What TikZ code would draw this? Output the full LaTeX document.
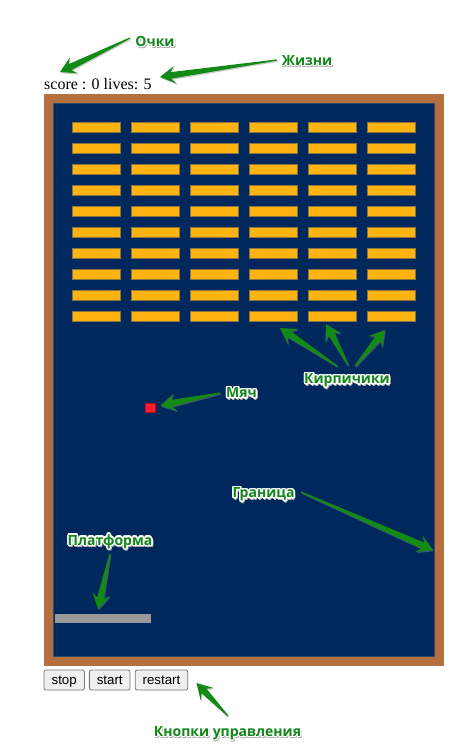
\documentclass[tikz,border=0pt]{standalone}
\usepackage{fontspec}
\setmainfont{Liberation Serif}
\newfontfamily\lblfont{Open Sans}
\newfontfamily\btnfont{Liberation Sans}
\usetikzlibrary{calc}
\definecolor{frame}{HTML}{B5703F}
\definecolor{field}{HTML}{00285C}
\definecolor{brick}{HTML}{FFB311}
\definecolor{brickedge}{HTML}{8A7440}
\definecolor{ballred}{HTML}{FF1A2A}
\definecolor{paddle}{HTML}{999999}
\definecolor{lblgreen}{HTML}{12861A}
\definecolor{arrgreen}{HTML}{138A13}
\definecolor{btnfill}{HTML}{F0F0F0}
\definecolor{btnedge}{HTML}{767676}
\tikzset{
  lbl/.style={font=\lblfont\bfseries\fontsize{14}{16}\selectfont, inner sep=0pt, anchor=base},
  btn/.style={draw=btnedge, fill=btnfill, rounded corners=2pt, line width=0.8pt,
    font=\btnfont\fontsize{13.3}{15}\selectfont, inner sep=0pt, minimum height=20pt,
    text height=10pt, text depth=1pt},
  brickbox/.style={fill=brick, draw=brickedge, line width=0.5pt},
}
\newcommand\glabel[3]{%
  \foreach \a in {0,45,...,315} \node[lbl,text=black!30] at ($(#2)+(\a:1.3)+(0.8,1.2)$) {#3};
  \foreach \a in {0,30,...,330} \node[lbl,text=white] at ($(#2)+(\a:1.5)$) {#3};
  \node[lbl,text=lblgreen] (#1) at (#2) {#3};
}
\newcommand\garrowpath[1]{($(#1t)!0.6pt!90:(#1p)$) -- ($(#1c)!3.3pt!90:(#1p)$) -- ($(#1b)!9pt!90:(#1p)$) -- (#1p) -- ($(#1b)!9pt!-90:(#1p)$) -- ($(#1c)!3.3pt!-90:(#1p)$) -- ($(#1t)!0.6pt!-90:(#1p)$) -- cycle}
\newcommand\garrow[3]{%
  \coordinate (#3t) at (#1);
  \coordinate (#3p) at (#2);
  \coordinate (#3b) at ($(#3p)!15.5pt!(#3t)$);
  \coordinate (#3c) at ($(#3p)!11pt!(#3t)$);
  \fill[black!45,opacity=0.45,transform canvas={shift={(0.8pt,-1.2pt)}}] \garrowpath{#3};
  \fill[arrgreen] \garrowpath{#3};
}
\begin{document}
\begin{tikzpicture}[x=1pt,y=-1pt]
\useasboundingbox[fill=white] (0,0) rectangle (471,745);
% frame and field
\fill[frame] (44,94) rectangle (443.5,665.5);
\filldraw[fill=field, draw=field!60!gray, line width=0.6pt] (53,103) rectangle (434.5,656.5);
% bricks
\foreach \c in {0,...,5} \foreach \r in {0,...,9}
  \draw[brickbox] ({72.5+59*\c},{122+21*\r}) rectangle ++(47.5,10);
% ball and paddle
\filldraw[fill=ballred, draw=ballred!70!black, line width=0.4pt] (145,403) rectangle (155,412.5);
\fill[paddle] (55,613.5) rectangle (150.5,622.5);
% score
\node[anchor=base west, inner sep=0pt, font=\fontsize{16}{18}\selectfont] (score) at (44,89.5) {score : 0 lives: 5};
% buttons
\node[btn, minimum width=40.5pt] (stop) at (64.2,680) {stop};
\node[btn, minimum width=40.7pt] (start) at (109.7,680) {start};
\node[btn, minimum width=52.4pt] (restart) at (161.5,680) {restart};
% arrows
\garrow{130,38}{60,72}{aoch}
\garrow{277,60}{160,77}{azh}
\garrow{337,366}{280,328}{ak1}
\garrow{348,365}{326,324}{ak2}
\garrow{355,366}{385,330}{ak3}
\garrow{220,393}{160.5,405.5}{amy}
\garrow{301,492}{433,550}{agr}
\garrow{110,554}{98,609}{apl}
\garrow{228,716}{196.5,683}{akn}
% labels
\glabel{och}{155,46}{Очки}
\glabel{zh}{307,65}{Жизни}
\glabel{kirp}{347,383.5}{Кирпичики}
\glabel{myach}{241.5,397.5}{Мяч}
\glabel{gran}{263.5,497.5}{Граница}
\glabel{plat}{110,545}{Платформа}
\glabel{knop}{227.5,736}{Кнопки управления}
\end{tikzpicture}
\end{document}
